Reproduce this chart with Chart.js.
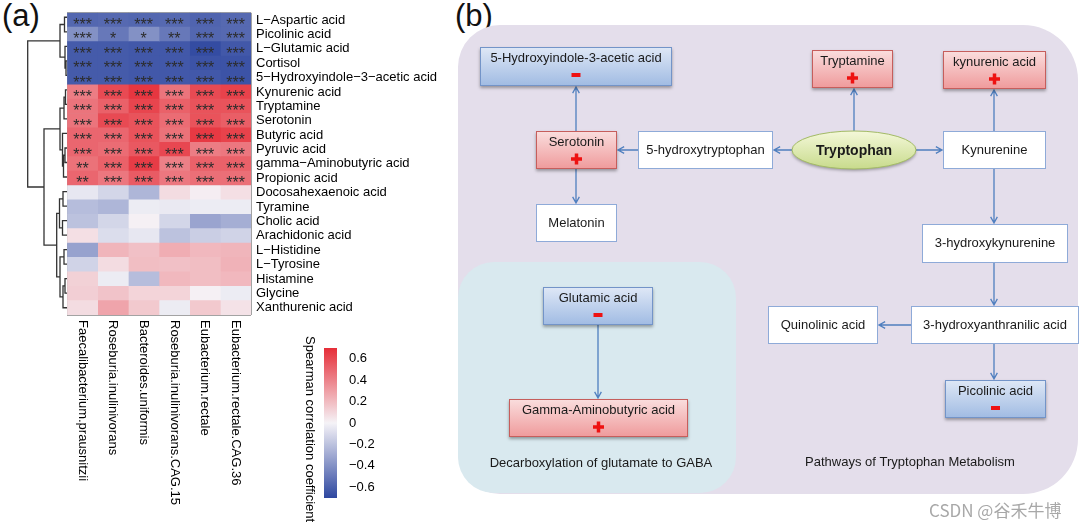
<!DOCTYPE html>
<html>
<head>
<meta charset="utf-8">
<script src="https://cdn.jsdelivr.net/npm/chart.js@4.4.1/dist/chart.umd.min.js"></script>
<style>
body { margin: 0; width: 1080px; height: 528px; background: #fff; position: relative; overflow: hidden; font-family: "Liberation Sans", Arial, sans-serif; }
canvas { position: absolute; }
.tag { position: absolute; top: 0; font-size: 31px; line-height: 31px; color: #111; }
</style>
</head>
<body>
<div class="tag" style="left:2px">(a)</div>
<div class="tag" style="left:455px">(b)</div>
<canvas id="dendro" width="68" height="528" style="left:0;top:0"></canvas>
<canvas id="heat" width="450" height="528" style="left:0;top:0"></canvas>
<canvas id="cbar" width="80" height="198" style="left:300px;top:330px"></canvas>
<canvas id="path" width="640" height="528" style="left:440px;top:0"></canvas>
<script>
const FONT = '"Liberation Sans", Arial, sans-serif';

// rows of the heatmap, top to bottom
const metabolites = ['L\u2212Aspartic acid', 'Picolinic acid', 'L\u2212Glutamic acid', 'Cortisol',
  '5\u2212Hydroxyindole\u22123\u2212acetic acid', 'Kynurenic acid', 'Tryptamine', 'Serotonin',
  'Butyric acid', 'Pyruvic acid', 'gamma\u2212Aminobutyric acid', 'Propionic acid',
  'Docosahexaenoic acid', 'Tyramine', 'Cholic acid', 'Arachidonic acid', 'L\u2212Histidine',
  'L\u2212Tyrosine', 'Histamine', 'Glycine', 'Xanthurenic acid'];

const bacteria = ['Faecalibacterium.prausnitzii', 'Roseburia.inulinivorans', 'Bacteroides.uniformis',
  'Roseburia.inulinivorans.CAG.15', 'Eubacterium.rectale', 'Eubacterium.rectale.CAG.36'];

// spearman r per bacterium (one value per metabolite row)
const faecali  = [-0.57, -0.40, -0.62, -0.62, -0.62, 0.42, 0.45, 0.45, 0.50, 0.50, 0.46, 0.50, -0.05, -0.22, -0.20, 0.07, -0.33, -0.13, 0.12, 0.13, 0.08];
const rosInul  = [-0.56, -0.50, -0.62, -0.62, -0.62, 0.60, 0.52, 0.60, 0.50, 0.48, 0.52, 0.44, -0.12, -0.25, -0.12, -0.09, 0.22, 0.08, -0.03, 0.17, 0.28];
const bactUnif = [-0.57, -0.40, -0.63, -0.63, -0.63, 0.67, 0.62, 0.57, 0.57, 0.55, 0.65, 0.54, -0.25, -0.03, 0.01, -0.05, 0.18, 0.19, -0.22, 0.11, 0.15];
const rosCag15 = [-0.56, -0.50, -0.63, -0.63, -0.63, 0.45, 0.52, 0.48, 0.46, 0.61, 0.41, 0.44, 0.08, -0.04, -0.12, -0.20, 0.25, 0.18, 0.21, 0.11, -0.03];
const eubRect  = [-0.58, -0.57, -0.68, -0.65, -0.63, 0.60, 0.57, 0.57, 0.66, 0.42, 0.52, 0.47, 0.02, -0.03, -0.32, -0.15, 0.21, 0.19, 0.19, 0.01, 0.15];
const eubCag36 = [-0.56, -0.56, -0.63, -0.65, -0.65, 0.63, 0.57, 0.53, 0.63, 0.44, 0.52, 0.47, 0.07, -0.03, -0.28, -0.13, 0.22, 0.23, 0.21, -0.03, 0.06];

// number of significance stars per cell
const faecaliSig  = [3, 3, 3, 3, 3, 3, 3, 3, 3, 3, 2, 2, 0, 0, 0, 0, 0, 0, 0, 0, 0];
const rosInulSig  = [3, 1, 3, 3, 3, 3, 3, 3, 3, 3, 3, 3, 0, 0, 0, 0, 0, 0, 0, 0, 0];
const bactUnifSig = [3, 1, 3, 3, 3, 3, 3, 3, 3, 3, 3, 3, 0, 0, 0, 0, 0, 0, 0, 0, 0];
const rosCag15Sig = [3, 2, 3, 3, 3, 3, 3, 3, 3, 3, 3, 3, 0, 0, 0, 0, 0, 0, 0, 0, 0];
const eubRectSig  = [3, 3, 3, 3, 3, 3, 3, 3, 3, 3, 3, 3, 0, 0, 0, 0, 0, 0, 0, 0, 0];
const eubCag36Sig = [3, 3, 3, 3, 3, 3, 3, 3, 3, 3, 3, 3, 0, 0, 0, 0, 0, 0, 0, 0, 0];

const corrCols = [faecali, rosInul, bactUnif, rosCag15, eubRect, eubCag36];
const sigCols = [faecaliSig, rosInulSig, bactUnifSig, rosCag15Sig, eubRectSig, eubCag36Sig];

// row dendrogram, hclust style: negative = leaf row, positive = earlier merge (1-based), then height
const dendroMerge = [
  [-1, -2, 2.5], [-4, -5, 1.0], [-3, 2, 2.0], [1, 3, 7.0],
  [-6, -7, 1.5], [5, -8, 3.0], [-10, -11, 2.0], [7, -12, 3.5], [-9, 8, 4.5], [6, 9, 7.0],
  [-13, -14, 4.0], [-15, -16, 4.5], [11, 12, 7.5], [-17, -18, 3.0], [-19, -20, 2.0],
  [15, -21, 4.0], [14, 16, 7.0], [13, 17, 10.3], [10, 18, 23.0], [4, 19, 39.3]
];

const cbTicks = [0.6, 0.4, 0.2, 0, -0.2, -0.4, -0.6];
const cbTickLabels = ['0.6', '0.4', '0.2', '0', '\u22120.2', '\u22120.4', '\u22120.6'];

// pathway diagram boxes: label, left, top, right, bottom, change
const pathwayBoxes = [
  ['5-Hydroxyindole-3-acetic acid', 480, 47, 672, 86, 'down'],
  ['Tryptamine', 812, 50, 893, 88, 'up'],
  ['kynurenic acid', 943, 51, 1046, 89, 'up'],
  ['Serotonin', 536, 131, 617, 169, 'up'],
  ['5-hydroxytryptophan', 638, 131, 773, 169, ''],
  ['Kynurenine', 943, 131, 1046, 169, ''],
  ['Melatonin', 536, 204, 617, 242, ''],
  ['3-hydroxykynurenine', 922, 224, 1068, 263, ''],
  ['Quinolinic acid', 768, 306, 878, 344, ''],
  ['3-hydroxyanthranilic acid', 911, 306, 1079, 344, ''],
  ['Picolinic acid', 945, 380, 1046, 418, 'down'],
  ['Glutamic acid', 543, 287, 653, 325, 'down'],
  ['Gamma-Aminobutyric acid', 509, 399, 688, 437, 'up']
];
const pathwayArrows = [
  [792, 150, 774, 150], [638, 150, 618, 150], [576, 131, 576, 87], [576, 169, 576, 203],
  [854, 131, 854, 89], [916, 150, 942, 150], [994, 131, 994, 90], [994, 169, 994, 223],
  [994, 263, 994, 305], [911, 325, 879, 325], [994, 344, 994, 379], [598, 325, 598, 398]
];

function corrColor(v) {
  const w = [245, 243, 247], red = [230, 46, 56], blue = [46, 71, 160];
  const t = Math.min(Math.abs(v) / 0.7, 1);
  const end = v >= 0 ? red : blue;
  const c = w.map((a, i) => Math.round(a + (end[i] - a) * t));
  return 'rgb(' + c.join(',') + ')';
}

// ---------- dendrogram ----------
function dendroPoints(merge) {
  const pos = [];
  const node = k => k < 0 ? [0, -k - 1] : pos[k - 1];
  const pts = [];
  merge.forEach(([a, b, h]) => {
    const A = node(a), B = node(b);
    pts.push({x: A[0], y: A[1]}, {x: h, y: A[1]}, {x: h, y: B[1]}, {x: B[0], y: B[1]}, {x: NaN, y: NaN});
    pos.push([h, (A[1] + B[1]) / 2]);
  });
  return pts;
}

new Chart(document.getElementById('dendro'), {
  type: 'scatter',
  data: {
    datasets: [{
      data: dendroPoints(dendroMerge),
      showLine: true,
      spanGaps: false,
      borderColor: '#333',
      borderWidth: 1.3,
      pointRadius: 0
    }]
  },
  options: {
    responsive: false,
    animation: false,
    events: [],
    layout: {padding: {left: 27, right: 1, top: 10, bottom: 213}},
    plugins: {legend: {display: false}, tooltip: {enabled: false}},
    scales: {
      x: {type: 'linear', min: 0, max: 40, reverse: true, display: false},
      y: {type: 'linear', min: -0.5, max: 20.5, reverse: true, display: false}
    }
  }
});

// ---------- heatmap ----------
const starsPlugin = {
  id: 'stars',
  afterDraw(chart) {
    const ctx = chart.ctx;
    ctx.save();
    ctx.fillStyle = '#2c2c2c';
    ctx.font = '16px ' + FONT;
    ctx.textAlign = 'center';
    ctx.textBaseline = 'alphabetic';
    chart.data.datasets.forEach((ds, i) => {
      chart.getDatasetMeta(i).data.forEach((bar, r) => {
        const n = ds.stars[r];
        if (!n) return;
        const p = bar.getProps(['x', 'y', 'base'], true);
        ctx.fillText('*'.repeat(n), (p.x + p.base) / 2, p.y + 10);
      });
    });
    ctx.restore();
  }
};

const colLabels = {
  id: 'colLabels',
  afterDraw(chart) {
    const ctx = chart.ctx, xs = chart.scales.x;
    ctx.save();
    ctx.font = '13px ' + FONT;
    ctx.fillStyle = '#000';
    ctx.textAlign = 'left';
    ctx.textBaseline = 'middle';
    bacteria.forEach((b, c) => {
      ctx.save();
      ctx.translate(xs.getPixelForValue(c + 0.5), chart.chartArea.bottom + 5);
      ctx.rotate(Math.PI / 2);
      ctx.fillText(b, 0, 0);
      ctx.restore();
    });
    ctx.restore();
  }
};

new Chart(document.getElementById('heat'), {
  type: 'bar',
  data: {
    labels: metabolites,
    datasets: bacteria.map((b, c) => ({
      label: b,
      data: metabolites.map(() => [c, c + 1]),
      backgroundColor: corrCols[c].map(corrColor),
      stars: sigCols[c],
      borderWidth: 0,
      grouped: false,
      barPercentage: 1,
      categoryPercentage: 1
    }))
  },
  options: {
    indexAxis: 'y',
    responsive: false,
    animation: false,
    events: [],
    layout: {padding: {left: 67, top: 10, bottom: 213, right: 9}},
    plugins: {legend: {display: false}, tooltip: {enabled: false}},
    scales: {
      x: {
        type: 'linear', min: 0, max: 6, z: 1,
        ticks: {display: false, stepSize: 1},
        grid: {color: '#a3a3a3', drawTicks: false},
        border: {display: false},
        afterFit: s => { s.height = 0; }
      },
      y: {
        position: 'right', z: 1,
        grid: {color: '#a3a3a3', drawTicks: false, offset: true},
        border: {display: false},
        ticks: {color: '#000', padding: 5, autoSkip: false, font: {family: FONT, size: 13}},
        afterFit: s => { s.width = 190; }
      }
    }
  },
  plugins: [starsPlugin, colLabels]
});

// ---------- colour bar ----------
const cbTitle = {
  id: 'cbTitle',
  afterDraw(chart) {
    const ctx = chart.ctx;
    ctx.save();
    ctx.font = '13px ' + FONT;
    ctx.fillStyle = '#000';
    ctx.textAlign = 'left';
    ctx.textBaseline = 'middle';
    ctx.translate(10, 6);
    ctx.rotate(Math.PI / 2);
    ctx.fillText('Spearman correlation coefficient', 0, 0);
    ctx.restore();
  }
};

new Chart(document.getElementById('cbar'), {
  type: 'bar',
  data: {
    labels: [''],
    datasets: [{
      data: [[-0.7, 0.7]],
      borderWidth: 0,
      barPercentage: 1,
      categoryPercentage: 1,
      backgroundColor: c => {
        const area = c.chart.chartArea;
        if (!area) return '#fff';
        const g = c.chart.ctx.createLinearGradient(0, area.bottom, 0, area.top);
        for (let k = 0; k <= 14; k++) g.addColorStop(k / 14, corrColor(-0.7 + k * 0.1));
        return g;
      }
    }]
  },
  options: {
    responsive: false,
    animation: false,
    events: [],
    layout: {padding: {left: 24, top: 18, bottom: 30, right: 0}},
    plugins: {legend: {display: false}, tooltip: {enabled: false}},
    scales: {
      x: {display: false},
      y: {
        position: 'right', min: -0.7, max: 0.7,
        grid: {display: false},
        border: {display: false},
        afterBuildTicks: s => { s.ticks = cbTicks.map(v => ({value: v})); },
        ticks: {color: '#000', padding: 4, font: {family: FONT, size: 13},
          callback: (v, i) => cbTickLabels[i]},
        afterFit: s => { s.width = 43; }
      }
    }
  },
  plugins: [cbTitle]
});

// ---------- pathway diagram ----------
function arrowLine(ctx, x1, y1, x2, y2) {
  const a = Math.atan2(y2 - y1, x2 - x1), L = 7, s = 0.5;
  ctx.beginPath();
  ctx.moveTo(x1, y1);
  ctx.lineTo(x2, y2);
  ctx.moveTo(x2 - L * Math.cos(a - s), y2 - L * Math.sin(a - s));
  ctx.lineTo(x2, y2);
  ctx.lineTo(x2 - L * Math.cos(a + s), y2 - L * Math.sin(a + s));
  ctx.stroke();
}

const pathwayPlugin = {
  id: 'pathway',
  beforeDatasetsDraw(chart) {
    const ctx = chart.ctx, xs = chart.scales.x, ys = chart.scales.y;
    const X = v => xs.getPixelForValue(v), Y = v => ys.getPixelForValue(v);
    ctx.save();

    // panels
    ctx.fillStyle = '#e4deeb';
    ctx.beginPath();
    ctx.roundRect(X(458), Y(25), X(1078) - X(458), Y(494) - Y(25), [42, 55, 55, 42]);
    ctx.fill();
    ctx.fillStyle = '#d9e9ef';
    ctx.beginPath();
    ctx.roundRect(X(458), Y(262), X(736) - X(458), Y(493) - Y(262), 36);
    ctx.fill();

    // arrows
    ctx.strokeStyle = '#4f7fbf';
    ctx.lineWidth = 1.3;
    pathwayArrows.forEach(a => arrowLine(ctx, X(a[0]), Y(a[1]), X(a[2]), Y(a[3])));

    // boxes
    pathwayBoxes.forEach(([label, x1, y1, x2, y2, change]) => {
      const l = X(x1), t = Y(y1), w = X(x2) - l, h = Y(y2) - t;
      ctx.save();
      if (change) {
        const g = ctx.createLinearGradient(0, t, 0, t + h);
        if (change === 'up') { g.addColorStop(0, '#fadede'); g.addColorStop(1, '#ef9a9b'); ctx.strokeStyle = '#c65e5c'; }
        else { g.addColorStop(0, '#dfe8f6'); g.addColorStop(1, '#a0bbe3'); ctx.strokeStyle = '#7394c8'; }
        ctx.fillStyle = g;
        ctx.shadowColor = 'rgba(0,0,0,0.35)';
        ctx.shadowBlur = 3;
        ctx.shadowOffsetY = 2;
      } else {
        ctx.fillStyle = '#fff';
        ctx.strokeStyle = '#8eaad8';
      }
      ctx.fillRect(l, t, w, h);
      ctx.shadowColor = 'transparent';
      ctx.lineWidth = 1;
      ctx.strokeRect(l + 0.5, t + 0.5, w - 1, h - 1);
      ctx.fillStyle = '#1a1a1a';
      ctx.font = '13px ' + FONT;
      ctx.textAlign = 'center';
      ctx.textBaseline = 'middle';
      const cx = l + w / 2;
      if (change) {
        ctx.fillText(label, cx, t + 11);
        ctx.fillStyle = '#ee1111';
        const sy = t + 28;
        if (change === 'up') {
          ctx.fillRect(cx - 5.5, sy - 1.75, 11, 3.5);
          ctx.fillRect(cx - 1.75, sy - 5.5, 3.5, 11);
        } else {
          ctx.fillRect(cx - 4.5, sy - 2, 9, 4);
        }
      } else {
        ctx.fillText(label, cx, t + h / 2);
      }
      ctx.restore();
    });

    // tryptophan ellipse
    ctx.save();
    const ex = X(854), ey = Y(150);
    const eg = ctx.createLinearGradient(0, ey - 19, 0, ey + 19);
    eg.addColorStop(0, '#f4f8d9');
    eg.addColorStop(1, '#c8db8c');
    ctx.fillStyle = eg;
    ctx.shadowColor = 'rgba(0,0,0,0.3)';
    ctx.shadowBlur = 3;
    ctx.shadowOffsetY = 2;
    ctx.beginPath();
    ctx.ellipse(ex, ey, 62, 19, 0, 0, Math.PI * 2);
    ctx.fill();
    ctx.shadowColor = 'transparent';
    ctx.strokeStyle = '#a3bb66';
    ctx.lineWidth = 1;
    ctx.stroke();
    ctx.fillStyle = '#1a1a1a';
    ctx.font = 'bold 14px ' + FONT;
    ctx.textAlign = 'center';
    ctx.textBaseline = 'middle';
    ctx.fillText('Tryptophan', ex, ey + 1);
    ctx.restore();

    // captions
    ctx.fillStyle = '#1a1a1a';
    ctx.font = '13px ' + FONT;
    ctx.textAlign = 'center';
    ctx.textBaseline = 'middle';
    ctx.fillText('Decarboxylation of glutamate to GABA', X(601), Y(463));
    ctx.fillText('Pathways of Tryptophan Metabolism', X(910), Y(462));

    ctx.fillStyle = '#a8a8a8';
    ctx.font = '17px "Noto Sans CJK SC", sans-serif';
    ctx.textAlign = 'left';
    ctx.fillText('CSDN @谷禾牛博', X(929), Y(511));
    ctx.restore();
  }
};

new Chart(document.getElementById('path'), {
  type: 'scatter',
  data: {datasets: []},
  options: {
    responsive: false,
    animation: false,
    events: [],
    layout: {padding: 0},
    plugins: {legend: {display: false}, tooltip: {enabled: false}},
    scales: {
      x: {type: 'linear', min: 440, max: 1080, display: false},
      y: {type: 'linear', min: 0, max: 528, reverse: true, display: false}
    }
  },
  plugins: [pathwayPlugin]
});
</script>
</body>
</html>
